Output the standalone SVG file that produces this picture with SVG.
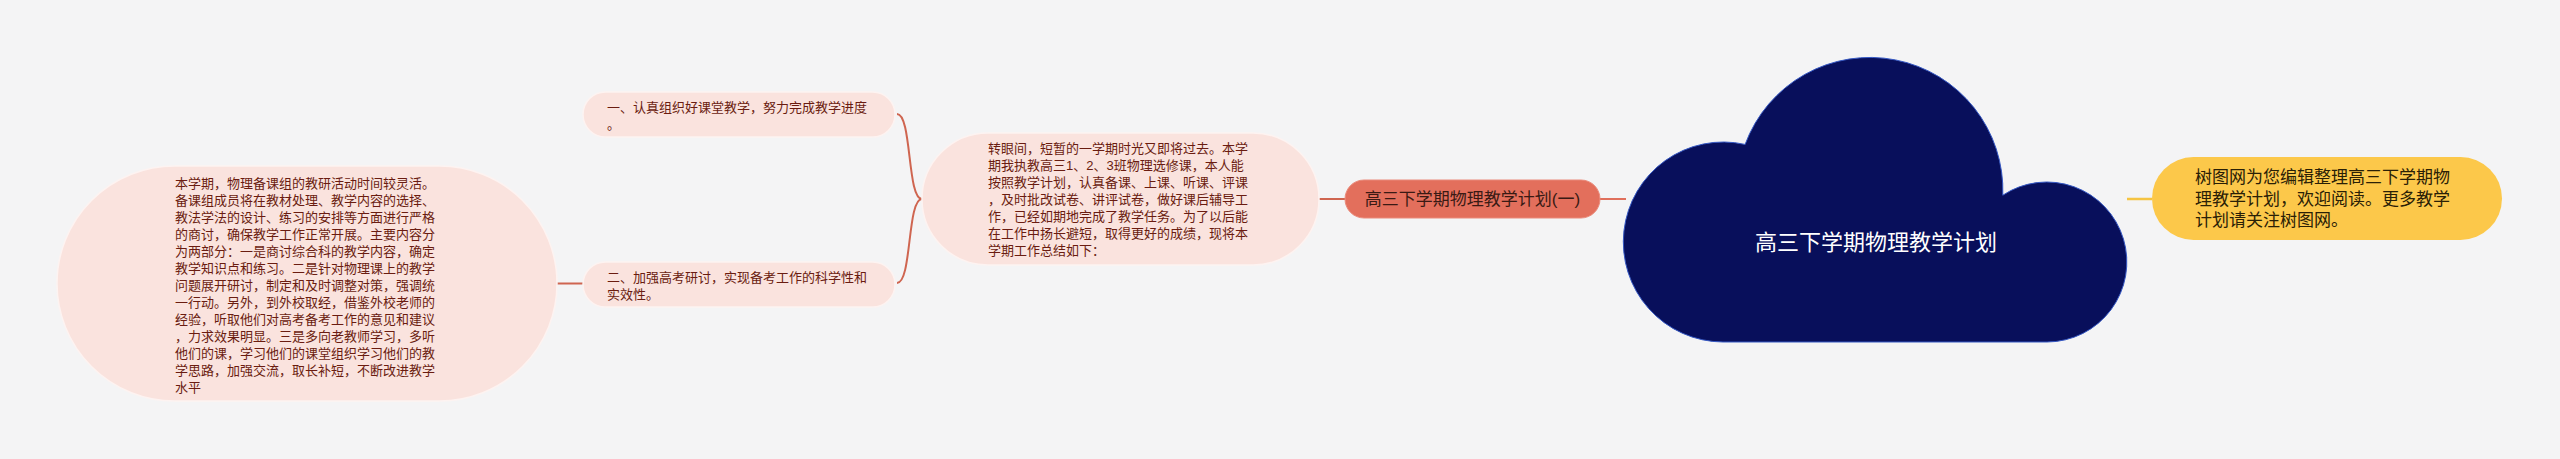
<svg xmlns="http://www.w3.org/2000/svg" width="2560" height="459" viewBox="0 0 2560 459">
<style>
.bg{fill:#f4f4f5}
.pink{fill:#fae3de;stroke:#fdf3f1;stroke-width:1.5}
.t13{font-family:"Liberation Sans","Noto Sans CJK SC",sans-serif;font-size:13px;fill:#6a1c10}
.conn{fill:none;stroke:#cf6550;stroke-width:2}
.connY{fill:none;stroke:#f5c443;stroke-width:2.5}
</style>
<rect class="bg" x="0" y="0" width="2560" height="459"/>
<g id="connectors">
<path class="conn" d="M557 283.5 L583 283.5"/>
<path class="conn" d="M897 114 C912 114, 907 199, 922 199"/>
<path class="conn" d="M897 283 C912 283, 907 199, 922 199"/>
<path class="conn" d="M1319 199 L1345 199"/>
<path class="conn" d="M1600 199 L1626 199" style="stroke:#e0705c"/>
<path class="connY" d="M2127 199 L2152 199"/>
</g>
<g id="left-detail">
<rect class="pink" x="57" y="166" width="500" height="235" rx="117.5"/>
<text class="t13">
<tspan x="175" y="187.5">本学期，物理备课组的教研活动时间较灵活。</tspan>
<tspan x="175" y="204.5">备课组成员将在教材处理、教学内容的选择、</tspan>
<tspan x="175" y="221.5">教法学法的设计、练习的安排等方面进行严格</tspan>
<tspan x="175" y="238.5">的商讨，确保教学工作正常开展。主要内容分</tspan>
<tspan x="175" y="255.5">为两部分：一是商讨综合科的教学内容，确定</tspan>
<tspan x="175" y="272.5">教学知识点和练习。二是针对物理课上的教学</tspan>
<tspan x="175" y="289.5">问题展开研讨，制定和及时调整对策，强调统</tspan>
<tspan x="175" y="306.5">一行动。另外，到外校取经，借鉴外校老师的</tspan>
<tspan x="175" y="323.5">经验，听取他们对高考备考工作的意见和建议</tspan>
<tspan x="175" y="340.5">，力求效果明显。三是多向老教师学习，多听</tspan>
<tspan x="175" y="357.5">他们的课，学习他们的课堂组织学习他们的教</tspan>
<tspan x="175" y="374.5">学思路，加强交流，取长补短，不断改进教学</tspan>
<tspan x="175" y="391.5">水平</tspan>
</text>
</g>
<g id="item-1">
<rect class="pink" x="583" y="92" width="312" height="45" rx="22.5"/>
<text class="t13">
<tspan x="607" y="111.5">一、认真组织好课堂教学，努力完成教学进度</tspan>
<tspan x="607" y="128.5">。</tspan>
</text>
</g>
<g id="item-2">
<rect class="pink" x="583" y="262" width="312" height="45" rx="22.5"/>
<text class="t13">
<tspan x="607" y="281.5">二、加强高考研讨，实现备考工作的科学性和</tspan>
<tspan x="607" y="298.5">实效性。</tspan>
</text>
</g>
<g id="intro">
<rect class="pink" x="922" y="133" width="397" height="132" rx="66"/>
<text class="t13">
<tspan x="988" y="152.5">转眼间，短暂的一学期时光又即将过去。本学</tspan>
<tspan x="988" y="169.5">期我执教高三1、2、3班物理选修课，本人能</tspan>
<tspan x="988" y="186.5">按照教学计划，认真备课、上课、听课、评课</tspan>
<tspan x="988" y="203.5">，及时批改试卷、讲评试卷，做好课后辅导工</tspan>
<tspan x="988" y="220.5">作，已经如期地完成了教学任务。为了以后能</tspan>
<tspan x="988" y="237.5">在工作中扬长避短，取得更好的成绩，现将本</tspan>
<tspan x="988" y="254.5">学期工作总结如下：</tspan>
</text>
</g>
<g id="branch">
<rect x="1345" y="180" width="255" height="38" rx="19" fill="#e36f5c" stroke="#ea8a7a" stroke-width="1"/>
<text x="1472.5" y="205" text-anchor="middle" font-family="Liberation Sans, Noto Sans CJK SC, sans-serif" font-size="17" fill="#3a1a14">高三下学期物理教学计划(一)</text>
</g>
<g id="root">
<path d="M1723 342 A100 100 0 1 1 1745.1 144.4 A133 133 0 0 1 2002.8 195.2 A80 80 0 1 1 2047 342 Z" fill="#080f5b" stroke="#3558c4" stroke-width="1"/>
<text x="1876" y="250" text-anchor="middle" font-family="Liberation Sans, Noto Sans CJK SC, sans-serif" font-size="22" fill="#ffffff">高三下学期物理教学计划</text>
</g>
<g id="note">
<rect x="2152" y="157" width="350" height="83" rx="41.5" fill="#fcc84a"/>
<text font-family="Liberation Sans, Noto Sans CJK SC, sans-serif" font-size="17" fill="#2a2006">
<tspan x="2195" y="183">树图网为您编辑整理高三下学期物</tspan>
<tspan x="2195" y="204.5">理教学计划，欢迎阅读。更多教学</tspan>
<tspan x="2195" y="226">计划请关注树图网。</tspan>
</text>
</g>
</svg>
